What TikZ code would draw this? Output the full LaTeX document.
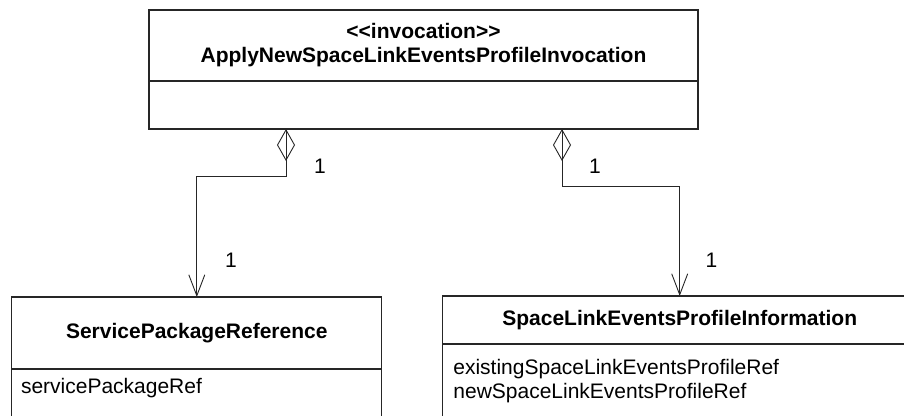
\documentclass[tikz,border=0pt]{standalone}
\usepackage{fontspec}
\setmainfont{Liberation Sans}[Ligatures=TeXOff]
\usetikzlibrary{arrows.meta,positioning}

\begin{document}
\begin{tikzpicture}[
      x=1pt, y=-1pt,
      every node/.style={font=\fontsize{21}{24}\selectfont},
      compart/.style={draw=black!85, line width=1.2pt, outer sep=0pt, inner sep=0pt},
      classname/.style={compart, font=\fontsize{21}{24}\selectfont\bfseries, align=center},
      attr/.style={inner sep=0pt, anchor=base west},
      mult/.style={inner sep=1pt},
      assoc/.style={-{Straight Barb[length=21pt, width=16pt]}, line width=0.9pt, black!85},
      agg/.style={{Diamond[open, length=32pt, width=18pt]}-, line width=0.9pt, black!85}
    ]
      \useasboundingbox (0,0) rectangle (904,415);
      \clip (0,0) rectangle (904,415);
      % invocation class
      \node[classname, minimum width=549pt, minimum height=71pt] (inv) at (423.5,45.5)
        {<{}<invocation>{}>\\ApplyNewSpaceLinkEventsProfileInvocation};
      \node[compart, minimum width=549pt, minimum height=48pt, anchor=north] (invops) at (inv.south) {};
      % parts
      \node[classname, minimum width=370pt, minimum height=72pt] (spr) at (196.8,333) {ServicePackageReference};
      \node[compart, minimum width=370pt, minimum height=80pt, anchor=north] (sprattr) at (spr.south) {};
      \node[attr] (sprref) at ([xshift=9pt, yshift=-24pt]sprattr.north west) {servicePackageRef};
      \node[classname, minimum width=475pt, minimum height=48pt] (slep) at (679.7,320) {SpaceLinkEventsProfileInformation};
      \node[compart, minimum width=475pt, minimum height=80pt, anchor=north] (slepattr) at (slep.south) {};
      \node[attr] (existref) at ([xshift=11pt, yshift=-30pt]slepattr.north west) {existingSpaceLinkEventsProfileRef};
      \node[attr] (newref) at ([yshift=-24pt]existref.base west) {newSpaceLinkEventsProfileRef};
      % associations
      \coordinate (lroot) at ([xshift=-137.5pt]invops.south);
      \coordinate (rroot) at ([xshift=138.5pt]invops.south);
      \draw[assoc] (lroot) -- ++(0,47.5) -| (spr.north);
      \draw[assoc] (rroot) -- ++(0,57) -| (slep.north);
      \draw[agg] (lroot) -- ++(0,34);
      \draw[agg] (rroot) -- ++(0,34);
      \node[mult] (lmultA) at (320,166) {1};
      \node[mult] (lmultB) at (231,260) {1};
      \node[mult] (rmultA) at (595,166) {1};
      \node[mult] (rmultB) at (711.5,260) {1};
    \end{tikzpicture}
\end{document}
